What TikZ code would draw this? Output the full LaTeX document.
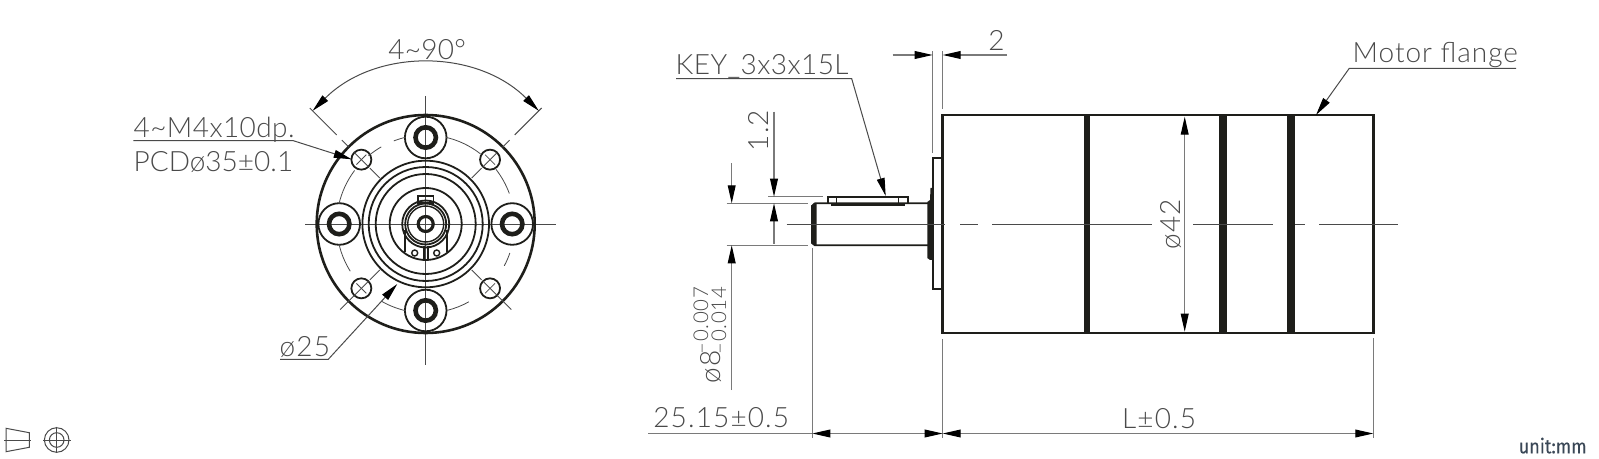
\documentclass[tikz,border=0pt]{standalone}
\usepackage{fontspec}
\usepackage{tikz}
\usetikzlibrary{arrows.meta}
\newfontfamily\cadfont{Lato}[UprightFont=* Light,LetterSpace=4]
\newfontfamily\unitfont{Fira Sans}[FakeStretch=.9,FakeBold=.25]
\newcommand{\tight}[1]{\addfontfeature{LetterSpace=#1}}
\definecolor{dimgray}{HTML}{7A7A7A}
\definecolor{labelgray}{HTML}{4A4A4A}
\definecolor{outline}{HTML}{1E1E1A}
\definecolor{unitblue}{HTML}{3A4756}
\tikzset{
  >={Triangle[length=9pt,width=3.9pt,color=black]},
  thick line/.style={draw=outline,line width=1.3pt},
  mid line/.style={draw=outline,line width=.9pt},
  dim line/.style={draw=dimgray,line width=.55pt},
  leader line/.style={draw=labelgray,line width=.5pt},
  center line/.style={draw=labelgray,line width=.4pt},
  dim label/.style={anchor=base west,inner sep=0pt,text=labelgray,font=\cadfont\fontsize{14pt}{14pt}\selectfont},
  small label/.style={dim label,font=\cadfont\fontsize{10.2pt}{10.2pt}\selectfont},
  side label/.style={dim label,rotate=90},
}
\begin{document}
\begin{tikzpicture}[x=.5pt,y=-.5pt]
\useasboundingbox (0,0) rectangle (1599,459);

\begin{scope}[shift={(425.7,224)},y=.5pt]
\draw [center line] (-120.7,0) -- (130,0);
\draw [center line] (0,128) -- (0,-141);
\draw [thick line] (0,0) circle (109);
\foreach \a in {0,90,180,270} {
  \draw [mid line] (\a:86.5) circle (20.8);
  \draw [draw=outline,line width=2.3pt] (\a:86.5) circle (10.2);
}
\foreach \a in {45,135,225,315} {
  \draw [mid line] (\a:91) circle (10);
  \draw [center line] (\a:81) -- (\a:101);
  \draw [center line] (\a:65) -- (\a:79);
  \draw [center line] (\a+90:7) ++(\a:91) -- ++(\a-90:14);
}
\foreach \a/\b in {120/130,103/111,52/77,20/38,-28/-19,-76/-61,-120/-103,-167/-148,143/167}
  \draw [center line] (\a:89) arc (\a:\b:89);
\draw [center line] (45:108.6) -- (45:118.6);
\draw [center line] (135:108.6) -- (135:118.6);
\draw [center line] (225:101) -- (225:121);
\draw [center line] (315:101) -- (315:121);
\draw [mid line] (0,0) circle (63.3);
\draw [mid line] (0,0) circle (57);
\draw [mid line] (0,0) circle (50);
\draw [mid line] (0,0) circle (36);
\draw [mid line] (0,0) circle (23.5);
\draw [mid line] (0,0) circle (20.5);
\draw [draw=outline,line width=.7pt] (0,0) circle (18);
\draw [draw=outline,line width=1.6pt] (0,0) circle (7.5);
\draw [mid line] (-8,21) rectangle (7.7,27.7);
\draw [mid line] (-21,-6) -- (-21,-28);
\draw [mid line] (21,-6) -- (21,-28);
\draw [mid line] (-1.5,-22) -- (-1.5,-35);
\draw [mid line] (2,-22) -- (2,-35);
\draw [draw=outline,line width=.7pt] (-11,-29) circle (3);
\draw [draw=outline,line width=.7pt] (11,-29) circle (3);
\coordinate (angleLeft) at (135:160);
\coordinate (angleRight) at (45:160);
\coordinate (angleLeftEnd) at (135:164);
\coordinate (angleRightEnd) at (45:164);
\coordinate (angleLeftIn) at (135:126);
\coordinate (angleRightIn) at (45:126);
\draw [leader line] (angleLeftEnd) -- (angleLeftIn);
\draw [leader line] (angleRightEnd) -- (angleRightIn);
\draw [leader line,<->] (angleLeft) arc (135:45:160);
\end{scope}

\node [dim label] (angleText) at (388,60) {\tight{1}4\textasciitilde 90°};
\node [dim label] (holeText) at (133.3,138) {\tight{1.5}4\textasciitilde M4x10dp.};
\node [dim label] (pcdText) at (133.3,171.5) {\tight{0}PCDø35±0.1};
\node [dim label] (boreText) at (279.3,356.5) {ø25};

\coordinate (holeStart) at (133.3,140.7);
\coordinate (holeElbow) at (293.3,140.7);
\coordinate (holeTip) at (351.7,159.3);
\draw [leader line,->] (holeStart) -- (holeElbow) -- (holeTip);
\coordinate (boreStart) at (280,359.3);
\coordinate (boreElbow) at (328.3,359.3);
\coordinate (boreTip) at (397.3,284);
\draw [leader line,->] (boreStart) -- (boreElbow) -- (boreTip);

\fill [outline] (1084,115) rectangle (1090,333);
\fill [outline] (1218.7,115) rectangle (1226.7,333);
\fill [outline] (1287.3,115) rectangle (1295,333);
\draw [thick line] (942.7,115) rectangle (1373.3,333);
\draw [mid line] (942.7,158.3) -- (932.7,158.3) -- (932.7,289.3) -- (942.7,289.3);
\fill [outline] (933.3,188) -- (930.5,188) -- (930,200) -- (927.3,202) -- (927.3,258) -- (930,260) -- (933.3,260) -- cycle;
\draw [mid line] (928,203.3) -- (815,203.3) -- (812,206) -- (812,243) -- (815,245.3) -- (928,245.3);
\fill [outline] (811.7,205.5) -- (814,203.3) -- (816.7,203.3) -- (816.7,245.3) -- (814,245.3) -- (811.7,243) -- cycle;
\draw [mid line] (828.3,203.3) -- (828.3,196.7) -- (907.7,196.7) -- (907.7,203.3);
\draw [mid line] (831,204.8) -- (905,204.8);
\draw [draw=outline,line width=.6pt] (836.7,197) -- (836.7,204.8);
\draw [draw=outline,line width=.6pt] (898.3,197) -- (898.3,204.8);

\draw [center line] (786.7,224) -- (945,224);
\draw [center line] (960,224) -- (978.3,224);
\draw [center line] (992.3,224) -- (1151.7,224);
\draw [center line] (1193.3,224) -- (1273.3,224);
\draw [center line] (1295,224) -- (1305,224);
\draw [center line] (1319,224) -- (1398.3,224);

\coordinate (flangeTop) at (932.7,153);
\coordinate (flangeExt) at (932.7,51);
\coordinate (bodyExtTop) at (942.7,109);
\coordinate (bodyExtUp) at (942.7,51);
\draw [dim line] (flangeTop) -- (flangeExt);
\draw [dim line] (bodyExtTop) -- (bodyExtUp);
\coordinate (gapLeft) at (892.7,55);
\coordinate (gapTipA) at (932.7,55);
\coordinate (gapTipB) at (942.7,55);
\coordinate (gapRight) at (1007,55);
\draw [dim line,->] (gapLeft) -- (gapTipA);
\draw [dim line,->] (gapRight) -- (gapTipB);
\node [dim label] (gapText) at (988,51) {2};

\node [dim label] (keyText) at (675.3,75) {\tight{1.5}KEY\_3x3x15L};
\coordinate (keyStart) at (676,78.7);
\coordinate (keyElbow) at (851.7,78.7);
\coordinate (keyTip) at (885.7,196);
\draw [leader line,->] (keyStart) -- (keyElbow) -- (keyTip);

\node [dim label] (flangeText) at (1352.3,62.5) {\tight{3.5}Motor flange};
\coordinate (flangeEnd) at (1516,68.3);
\coordinate (flangeElbow) at (1349.3,68.3);
\coordinate (flangeTip) at (1316,115);
\draw [leader line,->] (flangeEnd) -- (flangeElbow) -- (flangeTip);

\coordinate (shaftExtTopL) at (726.7,203.3);
\coordinate (shaftExtTopR) at (808.3,203.3);
\coordinate (shaftExtBotL) at (726.7,245.3);
\coordinate (shaftExtBotR) at (808.3,245.3);
\draw [dim line] (shaftExtTopL) -- (shaftExtTopR);
\draw [dim line] (shaftExtBotL) -- (shaftExtBotR);
\coordinate (shaftDimUp) at (731.7,163.3);
\coordinate (shaftTipTop) at (731.7,203.3);
\coordinate (shaftDimDown) at (731.7,390);
\coordinate (shaftTipBot) at (731.7,245.3);
\draw [dim line,->] (shaftDimUp) -- (shaftTipTop);
\draw [dim line,->] (shaftDimDown) -- (shaftTipBot);
\node [side label] (shaftText) at (720,384) {ø8};
\node [small label,rotate=90] (tolA) at (708,355) {–0.007};
\node [small label,rotate=90] (tolB) at (726,355) {–0.014};

\coordinate (keyExtL) at (768.3,196.7);
\coordinate (keyExtR) at (823.3,196.7);
\draw [dim line] (keyExtL) -- (keyExtR);
\coordinate (keyDimUp) at (774,111.7);
\coordinate (keyTipTop) at (774,196.7);
\coordinate (keyDimDown) at (774,244);
\coordinate (keyTipBot) at (774,203.3);
\draw [dim line,->] (keyDimUp) -- (keyTipTop);
\draw [dim line,->] (keyDimDown) -- (keyTipBot);
\node [side label] (keyDimText) at (768.3,151.7) {1.2};

\coordinate (bodyTipTop) at (1184.7,116.7);
\coordinate (bodyTipBot) at (1184.7,331.7);
\draw [dim line,<->] (bodyTipTop) -- (bodyTipBot);
\node [side label] (bodyText) at (1180,250) {ø42};

\coordinate (extShaftTop) at (812.3,248);
\coordinate (extShaftBot) at (812.3,438);
\coordinate (extBodyTop) at (942.7,339.3);
\coordinate (extBodyBot) at (942.7,438);
\coordinate (extEndTop) at (1373.3,338.3);
\coordinate (extEndBot) at (1373.3,438);
\draw [dim line] (extShaftTop) -- (extShaftBot);
\draw [dim line] (extBodyTop) -- (extBodyBot);
\draw [dim line] (extEndTop) -- (extEndBot);
\coordinate (lenStart) at (648,433.5);
\coordinate (lenShaft) at (812.3,433.5);
\coordinate (lenBody) at (942.7,433.5);
\coordinate (lenEnd) at (1373.3,433.5);
\draw [dim line] (lenStart) -- (lenShaft);
\draw [dim line,<->] (lenShaft) -- (lenBody);
\draw [dim line,<->] (lenBody) -- (lenEnd);
\node [dim label] (shaftLenText) at (653,427.3) {25.15±0.5};
\node [dim label] (bodyLenText) at (1121.7,428) {L±0.5};

\draw [leader line] (6,428.3) -- (29.3,432.7) -- (29.3,447.3) -- (6,451.7) -- cycle;
\draw [leader line] (4,440) -- (30.7,440);
\draw [leader line] (56.7,440) circle (12.3);
\draw [leader line] (56.7,440) circle (7.3);
\draw [leader line] (43.3,440) -- (71,440);
\draw [leader line] (56.7,426.7) -- (56.7,453.3);

\node [anchor=base east,inner sep=0pt,text=unitblue,font=\unitfont\fontsize{10pt}{10pt}\selectfont] (unitText) at (1587,453.3) {unit:mm};
\end{tikzpicture}
\end{document}
